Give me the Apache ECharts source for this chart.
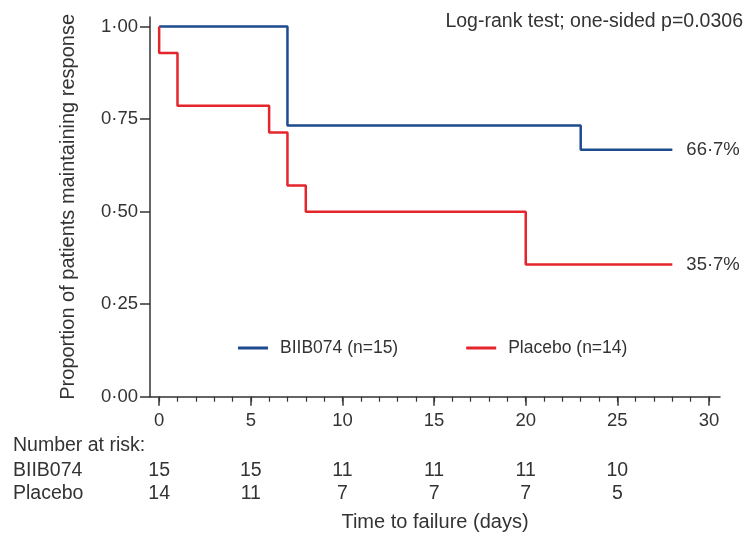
<!DOCTYPE html>
<html>
<head>
<meta charset="utf-8">
<script src="https://cdn.jsdelivr.net/npm/echarts@6/dist/echarts.min.js"></script>
<style>
html,body{margin:0;padding:0;background:#fff;}
#chart{width:751px;height:542px;}
</style>
</head>
<body>
<div id="chart"></div>
<script>
// ---- data ----
const seriesNames = ['BIIB074 (n=15)', 'Placebo (n=14)'];
const blueTimes = [0, 7, 23, 28];
const blueSurv  = [1.000, 0.733, 0.667, 0.667];
const redTimes  = [0, 0, 1, 6, 7, 8, 20, 28];
const redSurv   = [1.000, 0.929, 0.786, 0.714, 0.571, 0.500, 0.357, 0.357];
const endLabels = ['66·7%', '35·7%'];
const xTickValues = [0, 5, 10, 15, 20, 25, 30];
const xMinorTickValues = [0,1,2,3,4,5,6,7,8,9,10,11,12,13,14,15,16,17,18,19,20,21,22,23,24,25,26,27,28,29,30];
const yTickValues = [0, 0.25, 0.5, 0.75, 1];
const riskTimes = [0, 5, 10, 15, 20, 25];
const blueRisk  = [15, 15, 11, 11, 11, 10];
const redRisk   = [14, 11, 7, 7, 7, 5];
const riskRowNames = ['BIIB074', 'Placebo'];

// ---- style ----
const FONT = 'Liberation Sans, Arial, Helvetica, sans-serif';
const TXT = '#333333';
const BLUE = '#1d4b8f';
const RED = '#e4252b';
const FS = 18.5;
const FS_TABLE = 19.5;

const pair = (xs, ys) => xs.map((x, i) => [x, ys[i]]);

const chart = echarts.init(document.getElementById('chart'), null, {renderer: 'canvas'});

const baseX = {
  type: 'value', min: -0.5, max: 30.6, position: 'bottom',
  splitLine: {show: false}
};

const option = {
  animation: false,
  backgroundColor: '#ffffff',
  textStyle: {fontFamily: FONT, color: TXT},
  grid: {left: 150, right: 31, top: 17, bottom: 145.3, containLabel: false},
  legend: {
    left: 233, top: 334,
    icon: 'rect', itemWidth: 30, itemHeight: 3, itemGap: 68,
    textStyle: {fontFamily: FONT, fontSize: 17.5, color: TXT, padding: [0, 0, 0, 7]},
    data: seriesNames
  },
  xAxis: [
    Object.assign({}, baseX, {
      name: 'Time to failure (days)', nameLocation: 'middle', nameGap: 116,
      nameTextStyle: {fontFamily: FONT, fontSize: 20, color: TXT},
      axisLine: {show: true, onZero: false, lineStyle: {color: TXT, width: 1.5}},
      axisTick: {show: true, customValues: xTickValues, length: 9, lineStyle: {color: TXT, width: 1.5}},
      axisLabel: {show: true, customValues: xTickValues, margin: 15, fontFamily: FONT, fontSize: FS, color: TXT}
    }),
    Object.assign({}, baseX, {
      axisLine: {show: false, onZero: false},
      axisTick: {show: true, customValues: xMinorTickValues, length: 5, lineStyle: {color: TXT, width: 1.2}},
      axisLabel: {show: false}
    }),
    Object.assign({}, baseX, {
      offset: 56,
      axisLine: {show: false, onZero: false},
      axisTick: {show: false},
      axisLabel: {show: true, customValues: riskTimes, margin: 8, fontFamily: FONT, fontSize: FS_TABLE, color: TXT,
        formatter: v => String(blueRisk[riskTimes.indexOf(v)])}
    }),
    Object.assign({}, baseX, {
      offset: 79,
      axisLine: {show: false, onZero: false},
      axisTick: {show: false},
      axisLabel: {show: true, customValues: riskTimes, margin: 8, fontFamily: FONT, fontSize: FS_TABLE, color: TXT,
        formatter: v => String(redRisk[riskTimes.indexOf(v)])}
    })
  ],
  yAxis: {
    type: 'value', min: 0, max: 1.026,
    name: 'Proportion of patients maintaining response', nameLocation: 'middle', nameGap: 72,
    nameTextStyle: {fontFamily: FONT, fontSize: 20, color: TXT},
    splitLine: {show: false},
    axisLine: {show: true, onZero: false, lineStyle: {color: TXT, width: 1.5}},
    axisTick: {show: true, customValues: yTickValues, length: 10, lineStyle: {color: TXT, width: 1.5}},
    axisLabel: {show: true, customValues: yTickValues, margin: 12, fontFamily: FONT, fontSize: FS, color: TXT,
      formatter: v => v.toFixed(2).replace('.', '·')}
  },
  graphic: [
    {type: 'text', right: 8, top: 12, style: {text: 'Log-rank test; one-sided p=0.0306', font: '19.5px ' + FONT, fill: TXT}},
    {type: 'text', left: 13, top: 436, style: {text: 'Number at risk:', font: FS_TABLE + 'px ' + FONT, fill: TXT}},
    {type: 'text', left: 13, top: 461, style: {text: riskRowNames[0], font: FS_TABLE + 'px ' + FONT, fill: TXT}},
    {type: 'text', left: 13, top: 484, style: {text: riskRowNames[1], font: FS_TABLE + 'px ' + FONT, fill: TXT}}
  ],
  series: [
    {
      name: seriesNames[0], type: 'line', step: 'end', xAxisIndex: 0,
      data: pair(blueTimes, blueSurv), symbol: 'none',
      lineStyle: {color: BLUE, width: 2.5}, itemStyle: {color: BLUE},
      endLabel: {show: true, formatter: endLabels[0], distance: 14, fontFamily: FONT, fontSize: FS, color: TXT}
    },
    {
      name: seriesNames[1], type: 'line', step: 'end', xAxisIndex: 0,
      data: pair(redTimes, redSurv), symbol: 'none',
      lineStyle: {color: RED, width: 2.5}, itemStyle: {color: RED},
      endLabel: {show: true, formatter: endLabels[1], distance: 14, fontFamily: FONT, fontSize: FS, color: TXT}
    }
  ]
};
chart.setOption(option);
</script>
</body>
</html>
